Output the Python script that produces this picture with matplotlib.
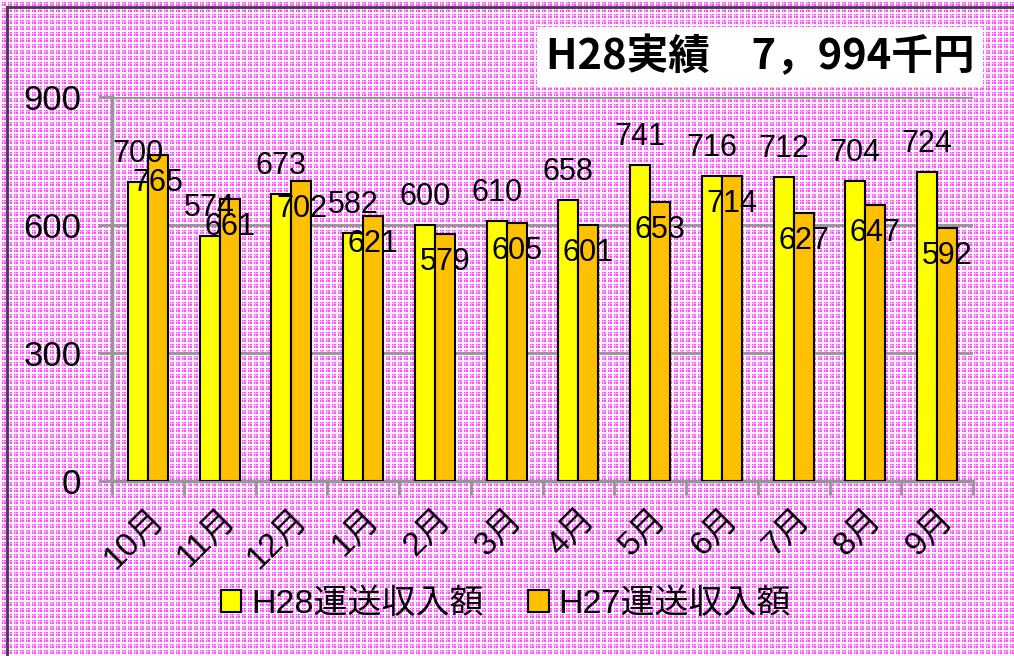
import numpy as np
import matplotlib.pyplot as plt
from matplotlib.patches import Rectangle
from matplotlib.lines import Line2D

plt.rcParams['font.family'] = ['Liberation Sans', 'Noto Sans CJK JP']

# --- data ---
months = ['10月', '11月', '12月', '1月', '2月', '3月', '4月', '5月', '6月', '7月', '8月', '9月']
h28 = [700, 574, 673, 582, 600, 610, 658, 741, 716, 712, 704, 724]
h27 = [765, 661, 702, 621, 579, 605, 601, 653, 714, 627, 647, 592]
series_names = ['H28運送収入額', 'H27運送収入額']
title_text = 'H28実績\u30007，994千円'

W, H = 1014, 656
fig = plt.figure(figsize=(W / 100, H / 100), dpi=100)
fig.patch.set_facecolor('#F48CF4')

# pink plaid background texture
magenta = np.array([0.97, 0.32, 0.97])
white = np.array([1.0, 0.96, 1.0])
pale = np.array([1.0, 0.70, 1.0])
row = np.zeros(H, dtype=int)
col = np.zeros(W, dtype=int)
row[np.arange(H) % 6 == 0] = 2
row[np.arange(H) % 6 == 1] = 2
row[np.arange(H) % 6 == 3] = 1
col[np.arange(W) % 6 == 0] = 2
col[np.arange(W) % 6 == 1] = 2
col[np.arange(W) % 6 == 3] = 1
level = np.maximum(row[:, None], col[None, :])
palette = np.stack([magenta, pale, white])
tex = palette[level]
bgax = fig.add_axes([0, 0, 1, 1], zorder=-10)
bgax.imshow(tex, interpolation='none', aspect='auto')
bgax.axis('off')

# dark border on left / top
fig.add_artist(Line2D([7 / W, 7 / W], [0, 1 - 7 / H], color='#404040', lw=2))
fig.add_artist(Line2D([7 / W, 1], [1 - 7 / H, 1 - 7 / H], color='#404040', lw=2))

ax = fig.add_axes([112 / W, 1 - 481 / H, (973 - 112) / W, (481 - 97) / H])
ax.set_facecolor('none')

x = np.arange(len(months))
bw = 0.28
ax.bar(x - bw / 2, h28, bw, color='#FFFF00', edgecolor='black', linewidth=1.5, zorder=3)
ax.bar(x + bw / 2, h27, bw, color='#FFC000', edgecolor='black', linewidth=1.5, zorder=3)

for xi, v in zip(x, h28):
    ax.annotate(str(v), (xi - bw / 2, v), xytext=(0, 28), textcoords='offset pixels',
                ha='center', va='center', fontsize=22, zorder=5)
for xi, v in zip(x, h27):
    ax.annotate(str(v), (xi + bw / 2, v), xytext=(0, -28), textcoords='offset pixels',
                ha='center', va='center', fontsize=22, zorder=5)

ax.set_xlim(-0.5, len(months) - 0.5)
ax.set_ylim(0, 900)
ax.set_yticks([0, 300, 600, 900])
ax.tick_params(axis='y', labelsize=25, length=10, width=2, color='#969696', pad=12)
ax.yaxis.grid(True, color='#969696', linewidth=2, zorder=1)
ax.set_axisbelow(True)

ax.set_xticks(x)
ax.set_xticklabels(months, rotation=45, ha='right', va='top', rotation_mode='anchor', fontsize=24)
ax.tick_params(axis='x', which='major', length=0, pad=16)
ax.set_xticks(np.arange(len(months) + 1) - 0.5, minor=True)
ax.tick_params(axis='x', which='minor', length=10, width=2, color='#969696')

for s in ['top', 'right']:
    ax.spines[s].set_visible(False)
for s in ['left', 'bottom']:
    ax.spines[s].set_color('#969696')
    ax.spines[s].set_linewidth(2.5)

# title box
fig.text(760 / W, 1 - 57 / H, title_text, ha='center', va='center', fontsize=30,
         fontweight='bold', family=['Noto Sans CJK JP'],
         bbox=dict(boxstyle='square,pad=0.22', facecolor='white', edgecolor='none'))

handles = [Rectangle((0, 0), 1, 1, facecolor='#FFFF00', edgecolor='black', lw=1.5),
           Rectangle((0, 0), 1, 1, facecolor='#FFC000', edgecolor='black', lw=1.5)]
fig.legend(handles, series_names, loc='center', bbox_to_anchor=(506 / W, 1 - 604 / H),
           ncol=2, frameon=False, fontsize=24.5, handlelength=0.6, handleheight=0.6,
           handletextpad=0.3, columnspacing=1.3)

fig.savefig('out.png', dpi=100)
